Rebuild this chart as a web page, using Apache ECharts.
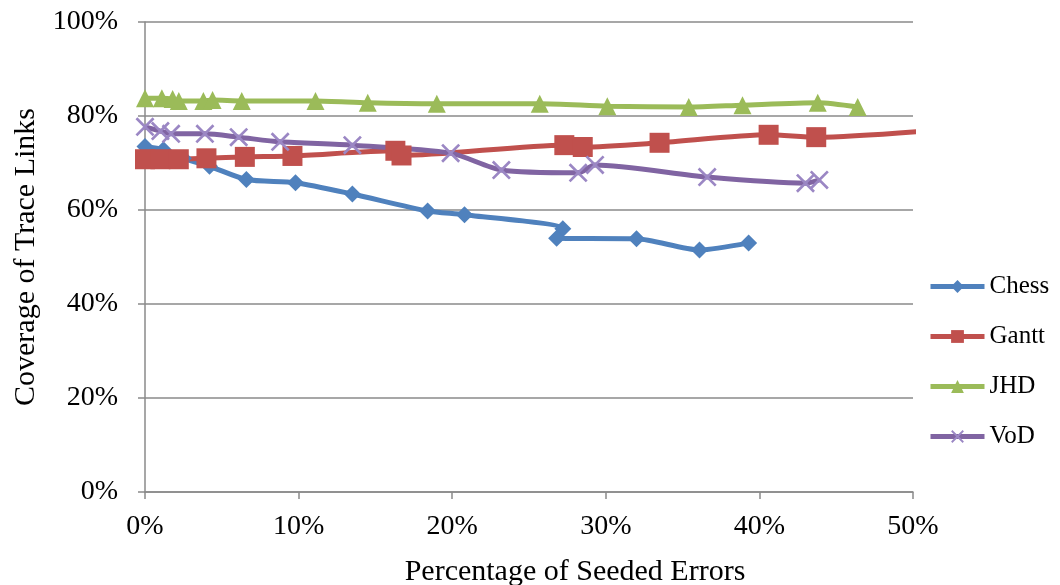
<!DOCTYPE html>
<html>
<head>
<meta charset="utf-8">
<script src="https://cdn.jsdelivr.net/npm/echarts@6/dist/echarts.min.js"></script>
<style>
  html, body { margin: 0; padding: 0; background: #fff; }
  #chart { width: 1060px; height: 585px; }
</style>
</head>
<body>
<div id="chart"></div>
<script>
// Coverage of trace links (%) against percentage of seeded errors (%), per project.
const seriesNames = ['Chess', 'Gantt', 'JHD', 'VoD'];

const chessPoints = [
  [0, 73.5], [1.2, 72.8], [2.5, 71.0], [4.2, 69.3], [6.6, 66.5], [9.8, 65.8],
  [13.5, 63.4], [18.4, 59.8], [20.8, 59.0], [27.2, 56.0], [26.8, 54.0],
  [32.0, 53.9], [36.1, 51.5], [39.3, 53.0]
];
const ganttPoints = [
  [0, 70.8], [1.0, 70.8], [2.2, 70.8], [4.0, 71.0], [6.5, 71.3], [9.6, 71.5],
  [16.3, 72.6], [16.7, 71.6], [27.3, 73.8], [28.5, 73.4], [33.5, 74.3],
  [40.6, 76.0], [43.7, 75.5], [53.0, 77.4]
];
const jhdPoints = [
  [0, 83.8], [1.1, 83.8], [1.8, 83.6], [2.2, 83.2], [3.8, 83.2], [4.4, 83.4],
  [6.3, 83.2], [11.1, 83.2], [14.5, 82.8], [19.0, 82.6], [25.7, 82.6],
  [30.1, 82.1], [35.4, 81.9], [38.9, 82.3], [43.8, 82.8], [46.4, 81.9]
];
const vodPoints = [
  [0, 77.7], [1.0, 76.8], [1.7, 76.2], [3.9, 76.2], [6.1, 75.5], [8.8, 74.5],
  [13.5, 73.8], [19.9, 72.1], [23.2, 68.5], [28.2, 67.9], [29.3, 69.6],
  [36.6, 67.0], [43.0, 65.7], [43.9, 66.4]
];

const xTicks = { min: 0, max: 50, step: 10 };
const yTicks = { min: 0, max: 100, step: 20 };

const colors = ['#4F81BD', '#C0504D', '#9BBB59', '#8064A2'];
const crossSymbol = 'path://M0,1 L1,0 L10,9 L9,10 Z M9,0 L10,1 L1,10 L0,9 Z';
const serif = '"Liberation Serif", "Times New Roman", serif';
const axisGrey = '#8a8a8a';

function lineSeries(name, data, color, symbol, size, symColor) {
  return {
    name: name,
    type: 'line',
    data: data,
    smooth: 0.25,
    clip: true,
    symbol: symbol,
    symbolSize: size,
    showAllSymbol: true,
    lineStyle: { color: color, width: 5 },
    itemStyle: { color: symColor || color },
    emphasis: { disabled: true }
  };
}

const chart = echarts.init(document.getElementById('chart'));
chart.setOption({
  animation: false,
  backgroundColor: '#ffffff',
  textStyle: { fontFamily: serif },
  grid: { left: 145, right: 147, top: 22, bottom: 93, outerBoundsMode: 'none', containLabel: false },
  legend: {
    orient: 'vertical',
    left: 923,
    top: 269,
    itemWidth: 54,
    itemHeight: 16,
    itemGap: 25,
    lineStyle: { width: 5 },
    textStyle: { fontFamily: serif, fontSize: 25, color: '#000' },
    data: seriesNames
  },
  xAxis: {
    type: 'value',
    min: xTicks.min,
    max: xTicks.max,
    interval: xTicks.step,
    name: 'Percentage of Seeded Errors',
    nameLocation: 'middle',
    nameGap: 65,
    nameTextStyle: { fontFamily: serif, fontSize: 30, color: '#000', padding: [0, 0, 0, 92] },
    axisLine: { lineStyle: { color: axisGrey, width: 1.5 } },
    axisTick: { show: true, length: 7, lineStyle: { color: axisGrey, width: 1.5 } },
    axisLabel: { formatter: '{value}%', fontFamily: serif, fontSize: 28, color: '#000', margin: 21 },
    splitLine: { show: false }
  },
  yAxis: {
    type: 'value',
    min: yTicks.min,
    max: yTicks.max,
    interval: yTicks.step,
    name: 'Coverage of Trace Links',
    nameLocation: 'middle',
    nameGap: 104,
    nameTextStyle: { fontFamily: serif, fontSize: 30, color: '#000' },
    axisLine: { show: true, lineStyle: { color: axisGrey, width: 1.5 } },
    axisTick: { show: true, inside: false, length: 7, lineStyle: { color: axisGrey, width: 1.5 } },
    axisLabel: { formatter: '{value}%', fontFamily: serif, fontSize: 28, color: '#000', margin: 27 },
    splitLine: { show: true, lineStyle: { color: axisGrey, width: 1.5 } }
  },
  series: [
    lineSeries('Chess', chessPoints, colors[0], 'diamond', 17),
    lineSeries('Gantt', ganttPoints, colors[1], 'rect', 20),
    lineSeries('JHD', jhdPoints, colors[2], 'triangle', 18),
    lineSeries('VoD', vodPoints, colors[3], crossSymbol, 19, '#9B87C4')
  ]
});
</script>
</body>
</html>
